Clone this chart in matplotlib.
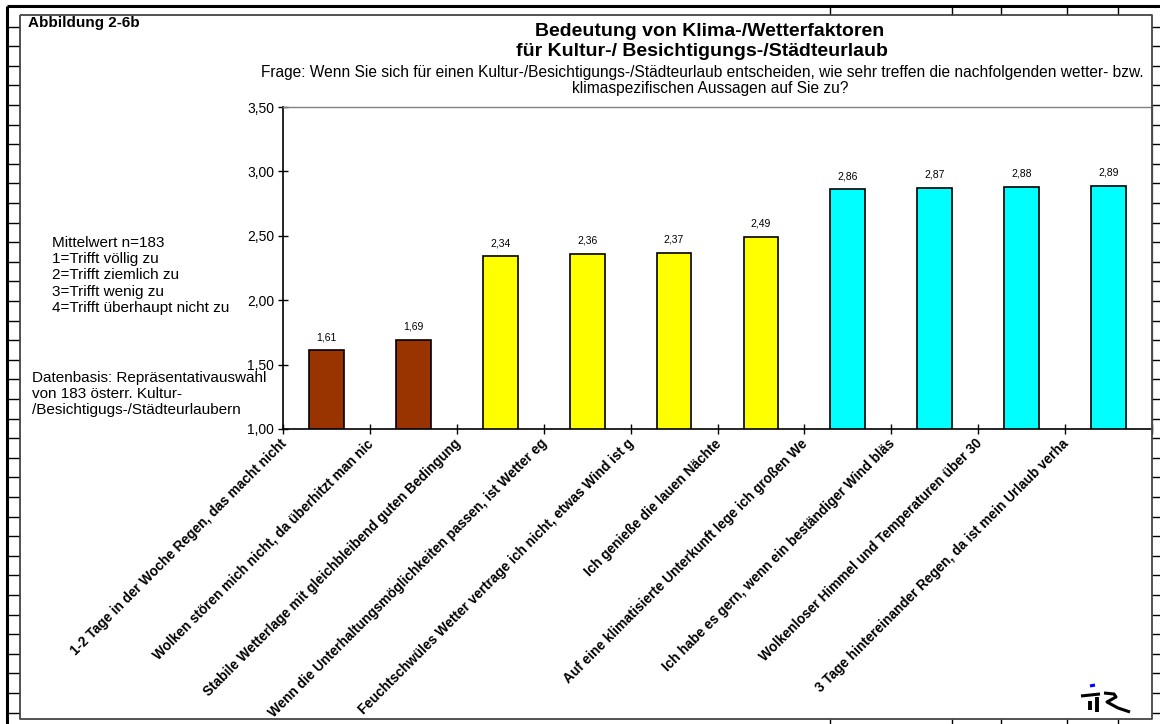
import matplotlib
matplotlib.use("Agg")
import matplotlib.pyplot as plt
from matplotlib.lines import Line2D

plt.rcParams['font.family'] = ['Liberation Sans', 'DejaVu Sans']

categories = [
    "1-2 Tage in der Woche Regen, das macht nicht",
    "Wolken stören mich nicht, da überhitzt man nic",
    "Stabile Wetterlage mit gleichbleibend guten Bedingung",
    "Wenn die Unterhaltungsmöglichkeiten passen, ist Wetter eg",
    "Feuchtschwüles Wetter vertrage ich nicht, etwas Wind ist g",
    "Ich genieße die lauen Nächte",
    "Auf eine klimatisierte Unterkunft lege ich großen We",
    "Ich habe es gern, wenn ein beständiger Wind bläs",
    "Wolkenloser Himmel und Temperaturen über 30",
    "3 Tage hintereinander Regen, da ist mein Urlaub verha",
]
values = [1.61, 1.69, 2.34, 2.36, 2.37, 2.49, 2.86, 2.87, 2.88, 2.89]
bar_colors = ["#993300", "#993300", "#FFFF00", "#FFFF00", "#FFFF00", "#FFFF00",
              "#00FFFF", "#00FFFF", "#00FFFF", "#00FFFF"]
y_ticks = [1.00, 1.50, 2.00, 2.50, 3.00, 3.50]

W, H = 1160, 724
fig = plt.figure(figsize=(W / 100, H / 100), dpi=100)


def fx(x):
    return x / W


def fy(y):
    return 1 - y / H


def pline(xs, ys, color="black", lw=1.0, z=1):
    fig.add_artist(Line2D([fx(x) for x in xs], [fy(y) for y in ys],
                          color=color, lw=lw, zorder=z, solid_capstyle='butt'))


# spreadsheet-like frame
pline([7, 1160], [6, 6], lw=2.2)
pline([7, 7], [6, 724], lw=2.2)
y = 26.5
while y < 724:
    pline([7, 20], [y, y], lw=1.0)
    pline([1152, 1160], [y, y], lw=1.0)
    y += 19.6
for x in [830, 952, 1001, 1067, 1118]:
    pline([x, x], [6, 15], lw=1.0)
    pline([x, x], [719, 724], lw=1.0)
# chart box
pline([20, 1152, 1152, 20, 20], [15, 15, 719, 719, 15], color="#444444", lw=1.3)

# axes
ax = fig.add_axes([fx(283), fy(429), fx(1152 - 283), (429 - 107) / H])
x = list(range(len(values)))
ax.bar(x, [v - 1.0 for v in values], bottom=1.0, width=0.4, color=bar_colors,
       edgecolor="black", linewidth=1.2, zorder=3)
for xi, v in zip(x, values):
    ax.annotate(f"{v:.2f}".replace(".", ","), (xi, v), xytext=(0, 6),
                textcoords="offset points", ha="center", va="bottom", fontsize=7.5)
ax.set_xlim(-0.5, len(values) - 0.5)
ax.set_ylim(1.0, 3.5)
ax.set_yticks(y_ticks)
ax.set_yticklabels([f"{t:.2f}".replace(".", ",") for t in y_ticks], fontsize=10)
ax.set_xticks([i - 0.5 for i in range(len(values) + 1)])
ax.set_xticklabels([])
ax.tick_params(axis="both", direction="inout", length=7, width=1.0, pad=3)
for s in ["top", "right"]:
    ax.spines[s].set_color("#808080")
    ax.spines[s].set_linewidth(1.0)
for s in ["left", "bottom"]:
    ax.spines[s].set_color("black")
    ax.spines[s].set_linewidth(1.2)

# rotated category labels
for i, lab in enumerate(categories):
    ax.annotate(lab, (i - 0.5, 1.0), xytext=(1, -9), textcoords="offset points",
                ha="right", va="center", rotation=45, rotation_mode="anchor",
                fontsize=9.8, fontweight="bold", annotation_clip=False)

# titles
fig.text(fx(28), fy(23), "Abbildung 2-6b", fontsize=11, fontweight="bold", ha="left", va="center")
fig.text(fx(710), fy(31), "Bedeutung von Klima-/Wetterfaktoren", fontsize=14, fontweight="bold",
         ha="center", va="center")
fig.text(fx(702), fy(51), "für Kultur-/ Besichtigungs-/Städteurlaub", fontsize=14, fontweight="bold",
         ha="center", va="center")
fig.text(fx(702), fy(72), "Frage: Wenn Sie sich für einen Kultur-/Besichtigungs-/Städteurlaub entscheiden, "
         "wie sehr treffen die nachfolgenden wetter- bzw.", fontsize=11.2, ha="center", va="center")
fig.text(fx(710), fy(89), "klimaspezifischen Aussagen auf Sie zu?", fontsize=11.2, ha="center", va="center")

legend_lines = ["Mittelwert n=183", "1=Trifft völlig zu", "2=Trifft ziemlich zu",
                "3=Trifft wenig zu", "4=Trifft überhaupt nicht zu"]
for k, t in enumerate(legend_lines):
    fig.text(fx(52), fy(243 + 16.2 * k), t, fontsize=11, ha="left", va="center")
basis_lines = ["Datenbasis: Repräsentativauswahl", "von 183 österr. Kultur-",
               "/Besichtigugs-/Städteurlaubern"]
for k, t in enumerate(basis_lines):
    fig.text(fx(32), fy(378 + 16.2 * k), t, fontsize=11, ha="left", va="center")

# logo
pline([1090, 1095], [686, 685], color="#0000FF", lw=2.2)
pline([1081, 1100], [696, 694], lw=2.2)
pline([1090, 1090], [701, 710], lw=2.8)
pline([1097, 1097], [697, 712], lw=2.8)
pline([1104, 1114, 1116, 1107, 1118, 1130], [693, 694, 697, 702, 708, 712], lw=2.2)

fig.savefig("out.png", dpi=100)
